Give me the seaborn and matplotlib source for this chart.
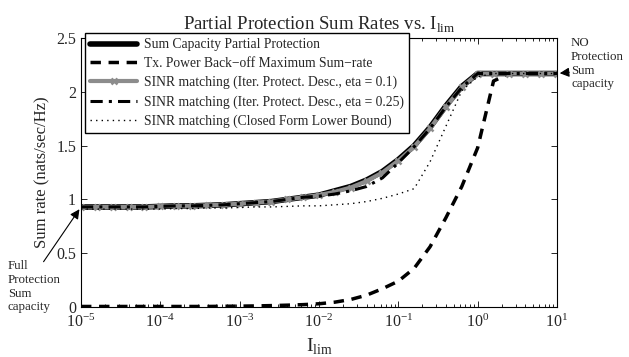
import numpy as np
import pandas as pd
import matplotlib
matplotlib.use("Agg")
import matplotlib.pyplot as plt
import seaborn as sns

# ---- data ----
log_ilim = [-5.0, -4.8, -4.6, -4.4, -4.2, -4.0, -3.8, -3.6, -3.4, -3.2,
            -3.0, -2.8, -2.6, -2.4, -2.2, -2.0, -1.8, -1.6, -1.4, -1.2,
            -1.0, -0.8, -0.6, -0.4, -0.2, 0.0, 0.2, 0.4, 0.6, 0.8, 1.0]
ilim = [10.0 ** v for v in log_ilim]

sum_capacity = [0.93, 0.93, 0.93, 0.93, 0.93, 0.935, 0.94, 0.94, 0.945, 0.95,
                0.96, 0.97, 0.98, 1.00, 1.02, 1.04, 1.08, 1.12, 1.18, 1.26,
                1.37, 1.50, 1.67, 1.87, 2.05, 2.17, 2.17, 2.17, 2.17, 2.17, 2.17]
tx_backoff = [0.005, 0.005, 0.005, 0.005, 0.005, 0.005, 0.005, 0.005, 0.005, 0.007,
              0.008, 0.010, 0.013, 0.017, 0.022, 0.030, 0.045, 0.070, 0.11, 0.17,
              0.24, 0.36, 0.56, 0.83, 1.12, 1.48, 2.10, 2.17, 2.17, 2.17, 2.17]
sinr_eta01 = [0.93, 0.93, 0.93, 0.93, 0.93, 0.935, 0.94, 0.94, 0.945, 0.95,
              0.96, 0.97, 0.98, 1.00, 1.02, 1.04, 1.07, 1.11, 1.17, 1.25,
              1.36, 1.49, 1.66, 1.86, 2.04, 2.17, 2.17, 2.17, 2.17, 2.17, 2.17]
sinr_eta025 = [0.93, 0.93, 0.93, 0.93, 0.93, 0.935, 0.94, 0.94, 0.945, 0.95,
               0.96, 0.97, 0.98, 1.00, 1.02, 1.03, 1.05, 1.08, 1.12, 1.20,
               1.34, 1.49, 1.66, 1.86, 2.04, 2.17, 2.17, 2.17, 2.17, 2.17, 2.17]
closed_form = [0.91, 0.91, 0.91, 0.91, 0.91, 0.91, 0.915, 0.915, 0.92, 0.92,
               0.925, 0.93, 0.93, 0.935, 0.94, 0.94, 0.95, 0.96, 0.98, 1.01,
               1.05, 1.10, 1.35, 1.68, 2.01, 2.14, 2.17, 2.17, 2.17, 2.17, 2.17]

labels = ["Sum Capacity Partial Protection",
          "Tx. Power Back\u2212off Maximum Sum\u2212rate",
          "SINR matching (Iter. Protect. Desc., eta = 0.1)",
          "SINR matching (Iter. Protect. Desc., eta = 0.25)",
          "SINR matching (Closed Form Lower Bound)"]
yticks = [0, 0.5, 1, 1.5, 2, 2.5]
yticklabels = ["0", "0.5", "1", "1.5", "2", "2.5"]

# ---- style ----
sns.set_style("ticks")
plt.rcParams["font.family"] = ["Liberation Serif", "DejaVu Serif"]
plt.rcParams["mathtext.fontset"] = "custom"
plt.rcParams["mathtext.rm"] = "Liberation Serif"
plt.rcParams["xtick.direction"] = "in"
plt.rcParams["ytick.direction"] = "in"

fig = plt.figure(figsize=(6.29, 3.57), dpi=100)
ax = fig.add_axes([81 / 629, 1 - 307 / 357, 476 / 629, 269 / 357])

series = [sum_capacity, tx_backoff, sinr_eta01, sinr_eta025, closed_form]
styles = [
    dict(color="black", linewidth=4.0, linestyle="-"),
    dict(color="black", linewidth=2.5, linestyle=(0, (3, 2.2))),
    dict(color="#8c8c8c", linewidth=3.0, linestyle="-", marker="x",
         markersize=5, markeredgewidth=1.8, markeredgecolor="#8c8c8c"),
    dict(color="black", linewidth=2.2, linestyle=(0, (4, 2, 1, 2))),
    dict(color="black", linewidth=1.0, linestyle=(0, (1, 3))),
]
handles = []
for vals, lab, st in zip(series, labels, styles):
    df = pd.DataFrame({"ilim": ilim, "rate": vals})
    sns.lineplot(data=df, x="ilim", y="rate", ax=ax, estimator=None,
                 sort=False, label=lab, legend=False, **st)
    handles.append(ax.lines[-1])

ax.set_xscale("log")
ax.set_xlim(1e-5, 10)
ax.set_ylim(0, 2.5)
ax.set_yticks(yticks)
ax.set_yticklabels(yticklabels)
ax.tick_params(which="both", direction="in", top=True, right=True,
               labelsize=11.5, width=0.7)
ax.tick_params(which="major", length=4)
ax.tick_params(which="minor", length=2)
ax.tick_params(axis="x", pad=5)
for sp in ax.spines.values():
    sp.set_linewidth(0.8)
    sp.set_color("black")

ax.set_xlabel(r"I$_{\rm lim}$", fontsize=14, labelpad=4)
ax.set_ylabel("Sum rate (nats/sec/Hz)", fontsize=12, labelpad=4)
ax.set_title(r"Partial Protection Sum Rates vs. I$_{\rm lim}$", fontsize=13.5, pad=6)

leg = fig.legend(handles=handles, labels=labels, loc="upper left",
                 bbox_to_anchor=(85 / 629, 1 - 33 / 357), fontsize=9.8,
                 handlelength=3.4, frameon=True, fancybox=False,
                 borderpad=0.4, labelspacing=0.42, handletextpad=0.5,
                 borderaxespad=0)
leg.get_frame().set_edgecolor("black")
leg.get_frame().set_linewidth(1.0)
leg.get_frame().set_alpha(1)

# annotations
fig.text(8 / 629, 1 - 260 / 357, "Full\nProtection\nSum\ncapacity",
         fontsize=9.3, va="top", ha="left", linespacing=1.2)
ax.annotate("", xy=(1e-5, 0.93), xycoords="data",
            xytext=(42 / 629, 1 - 264 / 357), textcoords="figure fraction",
            arrowprops=dict(arrowstyle="-|>", color="black", lw=0.8,
                            mutation_scale=14),
            annotation_clip=False)
fig.text(571 / 629, 1 - 37 / 357, "NO\nProtection\nSum\ncapacity",
         fontsize=9.3, va="top", ha="left", linespacing=1.2)
ax.annotate("", xy=(10, 2.17), xycoords="data",
            xytext=(572 / 629, 1 - 72 / 357), textcoords="figure fraction",
            arrowprops=dict(arrowstyle="-|>", color="black", lw=0.8,
                            mutation_scale=14),
            annotation_clip=False)

fig.savefig("out.png", dpi=100)
